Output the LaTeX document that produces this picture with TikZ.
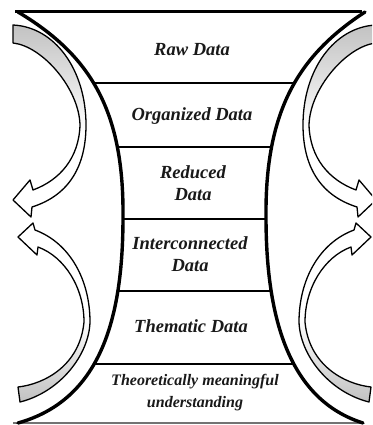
\documentclass[tikz,border=0pt]{standalone}
\usepackage{fontspec}
\setmainfont{Liberation Serif}
\begin{document}
\begin{tikzpicture}[x=1pt,y=-1pt,
  bigcurve/.style={line width=3.4pt, line cap=round},
  topline/.style={line width=3pt},
  baseline rule/.style={line width=1.2pt, draw=black!55},
  divider/.style={line width=1.7pt},
  arrowedge/.style={line width=1.3pt, line join=round},
  celltext/.style={font=\bfseries\itshape\fontsize{18.5}{22}\selectfont, text=black!90, align=center, inner sep=0pt},
  smalltext/.style={celltext, font=\bfseries\itshape\fontsize{16}{22}\selectfont}]
\useasboundingbox (0,0) rectangle (372,425);
\clip (0,0) rectangle (372,425);

% horizontal rules, cut off by the two bounding curves
\begin{scope}
  \clip (18,12) .. controls (90,55) and (124,110) .. (123,217)
        .. controls (123,320) and (100,400) .. (18,423) -- (363,423)
        .. controls (290,400) and (266,320) .. (266,217)
        .. controls (265,110) and (299,55) .. (365,12) -- cycle;
  \foreach \y in {83,147,219,291,364}
    \draw[divider] (0,\y) -- (372,\y);
\end{scope}

% top and bottom edges
\draw[topline] (15,12) -- (362,12);
\draw[baseline rule] (13,423) -- (362,423);

% the two bounding curves
\draw[bigcurve] (18,12) .. controls (90,55) and (124,110) .. (123,217)
      .. controls (123,320) and (100,400) .. (18,423);
\draw[bigcurve] (365,12) .. controls (299,55) and (265,110) .. (266,217)
      .. controls (266,320) and (290,400) .. (363,423);

% curved ribbon arrows: left side, then the mirror image on the right
\foreach \xs/\xf in {0/1, 389/-1} {
  \begin{scope}[xshift=\xs, xscale=\xf]
    % arrow bending down from the top
    \begin{scope}
      \clip (13,25) .. controls (55,27) and (86,70) .. (86,125)
            .. controls (86,165) and (70,195) .. (32,207) -- (31,217) -- (13,200)
            -- (30,180) -- (33,190) .. controls (60,180) and (79,158) .. (80,125)
            .. controls (79,88) and (42,46) .. (13,43) -- cycle;
      \shade[top color=gray!50, middle color=gray!40, bottom color=white]
        (0,20) rectangle (100,132);
    \end{scope}
    \draw[arrowedge] (13,25) .. controls (55,27) and (86,70) .. (86,125)
          .. controls (86,165) and (70,195) .. (32,207) -- (31,217) -- (13,200)
          -- (30,180) -- (33,190) .. controls (60,180) and (79,158) .. (80,125)
          .. controls (79,88) and (42,46) .. (13,43) -- cycle;
    % arrow bending up from the bottom
    \begin{scope}
      \clip (35,230) .. controls (70,243) and (90,280) .. (90,322)
            .. controls (89,355) and (60,392) .. (20,402) -- (18,387)
            .. controls (45,384) and (80,365) .. (84,322)
            .. controls (84,288) and (65,257) .. (38,247) -- (37,255) -- (18,237)
            -- (33,223) -- cycle;
      \shade[top color=white, middle color=gray!40, bottom color=gray!50]
        (0,318) rectangle (100,405);
    \end{scope}
    \draw[arrowedge] (35,230) .. controls (70,243) and (90,280) .. (90,322)
          .. controls (89,355) and (60,392) .. (20,402) -- (18,387)
          .. controls (45,384) and (80,365) .. (84,322)
          .. controls (84,288) and (65,257) .. (38,247) -- (37,255) -- (18,237)
          -- (33,223) -- cycle;
  \end{scope}
}

% stage labels
\node[celltext] (raw) at (192,50) {Raw Data};
\node[celltext] (organized) at (192,116) {Organized Data};
\node[celltext] (reduced) at (193,183) {Reduced\\Data};
\node[celltext] (inter) at (190,254) {Interconnected\\Data};
\node[celltext] (thematic) at (191,326) {Thematic Data};
\node[smalltext] (theory) at (195,393) {Theoretically meaningful\\understanding};
\end{tikzpicture}
\end{document}
